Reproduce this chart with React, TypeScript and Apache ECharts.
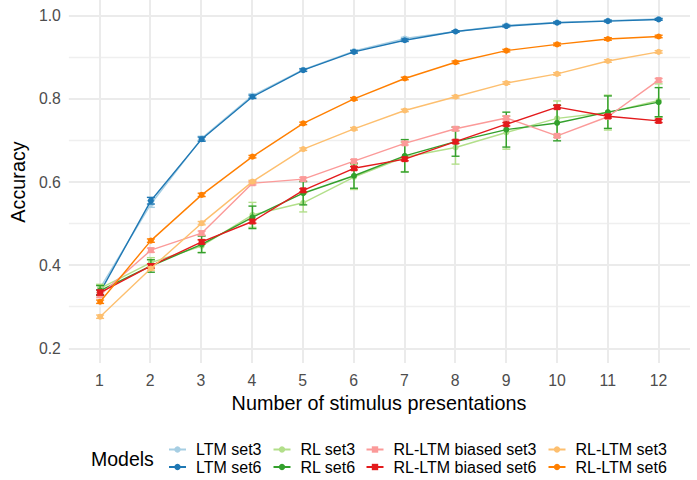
import React, { useEffect, useRef } from "react";
import * as echarts from "echarts";

const STIMULI = [1, 2, 3, 4, 5, 6, 7, 8, 9, 10, 11, 12];

const SERIES_NAMES = [
  "LTM set3",
  "LTM set6",
  "RL set3",
  "RL set6",
  "RL-LTM biased set3",
  "RL-LTM biased set6",
  "RL-LTM set3",
  "RL-LTM set6",
];
const COLORS = ["#A6CEE3", "#1F78B4", "#B2DF8A", "#33A02C", "#FB9A99", "#E31A1C", "#FDBF6F", "#FF7F00"];
const SHAPES = ["circle", "circle", "circle", "circle", "rect", "rect", "circle", "circle"];

const LTM_SET3 = [0.345, 0.547, 0.705, 0.808, 0.87, 0.915, 0.945, 0.962, 0.977, 0.984, 0.988, 0.992];
const LTM_SET6 = [0.335, 0.555, 0.703, 0.805, 0.869, 0.913, 0.941, 0.962, 0.975, 0.983, 0.987, 0.991];
const RL_SET3 = [0.344, 0.406, 0.446, 0.521, 0.55, 0.612, 0.66, 0.683, 0.719, 0.753, 0.767, 0.796];
const RL_SET6 = [0.339, 0.398, 0.45, 0.515, 0.573, 0.615, 0.663, 0.697, 0.726, 0.742, 0.768, 0.792];
const BIASED_SET3 = [0.328, 0.436, 0.477, 0.597, 0.607, 0.65, 0.693, 0.728, 0.754, 0.711, 0.757, 0.845];
const BIASED_SET6 = [0.334, 0.398, 0.456, 0.505, 0.58, 0.633, 0.655, 0.697, 0.739, 0.78, 0.758, 0.747];
const RLLTM_SET3 = [0.276, 0.392, 0.501, 0.601, 0.679, 0.728, 0.772, 0.805, 0.838, 0.86, 0.891, 0.913];
const RLLTM_SET6 = [0.312, 0.459, 0.569, 0.661, 0.741, 0.8, 0.849, 0.888, 0.916, 0.931, 0.944, 0.95];

const LTM_SET3_ERR = [0.006, 0.008, 0.005, 0.004, 0.003, 0.003, 0.003, 0.002, 0.002, 0.002, 0.002, 0.002];
const LTM_SET6_ERR = [0.006, 0.008, 0.005, 0.004, 0.003, 0.003, 0.003, 0.002, 0.002, 0.002, 0.002, 0.002];
const RL_SET3_ERR = [0.01, 0.012, 0.015, 0.03, 0.022, 0.03, 0.035, 0.04, 0.04, 0.042, 0.042, 0.04];
const RL_SET6_ERR = [0.012, 0.015, 0.02, 0.027, 0.028, 0.03, 0.039, 0.035, 0.042, 0.043, 0.039, 0.035];
const BIASED_SET3_ERR = [0.006, 0.005, 0.005, 0.004, 0.004, 0.004, 0.004, 0.004, 0.004, 0.004, 0.004, 0.004];
const BIASED_SET6_ERR = [0.006, 0.005, 0.005, 0.004, 0.004, 0.004, 0.004, 0.004, 0.004, 0.004, 0.004, 0.004];
const RLLTM_SET3_ERR = [0.004, 0.004, 0.004, 0.003, 0.003, 0.003, 0.003, 0.003, 0.003, 0.003, 0.003, 0.003];
const RLLTM_SET6_ERR = [0.004, 0.004, 0.004, 0.003, 0.003, 0.003, 0.003, 0.003, 0.003, 0.003, 0.003, 0.003];

const VALUES = [LTM_SET3, LTM_SET6, RL_SET3, RL_SET6, BIASED_SET3, BIASED_SET6, RLLTM_SET3, RLLTM_SET6];
const ERRORS = [LTM_SET3_ERR, LTM_SET6_ERR, RL_SET3_ERR, RL_SET6_ERR, BIASED_SET3_ERR, BIASED_SET6_ERR, RLLTM_SET3_ERR, RLLTM_SET6_ERR];

const FONT = "'Liberation Sans', Arial, Helvetica, sans-serif";
const LEG_X = [168, 272.5, 365.5, 547.5];
const LEG_Y = [441.5, 459];

export default function App() {
  const ref = useRef<HTMLDivElement>(null);
  useEffect(() => {
    const chart = echarts.init(ref.current!, null, { renderer: "svg" });
    const lineSeries = SERIES_NAMES.map((name, i) => ({
      type: "line",
      name,
      xAxisIndex: 1,
      yAxisIndex: 1,
      data: STIMULI.map((x, j) => [x, VALUES[i][j]]),
      symbol: SHAPES[i],
      symbolSize: 6,
      showSymbol: true,
      lineStyle: { width: 1.4, color: COLORS[i] },
      itemStyle: { color: COLORS[i] },
      z: 3 + i * 0.01,
    }));
    const errSeries = SERIES_NAMES.map((name, i) => ({
      type: "custom",
      name: name + " error",
      xAxisIndex: 1,
      yAxisIndex: 1,
      encode: { x: 0, y: 1 },
      data: STIMULI.map((x, j) => [x, VALUES[i][j], ERRORS[i][j]]),
      z: 3 + i * 0.01,
      renderItem: (params: any, api: any) => {
        const x = api.value(0);
        const y = api.value(1);
        const e = api.value(2);
        const top = api.coord([x, y + e]);
        const bot = api.coord([x, y - e]);
        const hw = 4;
        const style = { stroke: COLORS[i], lineWidth: 1.4 };
        return {
          type: "group",
          children: [
            { type: "line", shape: { x1: top[0], y1: top[1], x2: bot[0], y2: bot[1] }, style },
            { type: "line", shape: { x1: top[0] - hw, y1: top[1], x2: top[0] + hw, y2: top[1] }, style },
            { type: "line", shape: { x1: bot[0] - hw, y1: bot[1], x2: bot[0] + hw, y2: bot[1] }, style },
          ],
        };
      },
    }));

    const option: any = {
      animation: false,
      backgroundColor: "#ffffff",
      textStyle: { fontFamily: FONT },
      grid: [
        { left: 99.3, right: 697 - 658.6, top: 0, height: 363 },
        { left: 68, right: 7, top: 15.7, height: 332.6 },
      ],
      xAxis: [
        {
          gridIndex: 0,
          type: "value",
          min: 1,
          max: 12,
          interval: 1,
          axisLine: { show: false },
          axisTick: { show: false },
          axisLabel: { color: "#4D4D4D", fontSize: 15.8, margin: 9, fontFamily: FONT },
          splitLine: { show: true, lineStyle: { color: "#EBEBEB", width: 2 } },
          name: "Number of stimulus presentations",
          nameLocation: "middle",
          nameGap: 28,
          nameTextStyle: { color: "#000", fontSize: 19.8, fontFamily: FONT },
        },
        { gridIndex: 1, type: "value", min: 0.3845, max: 12.6175, show: false },
      ],
      yAxis: [
        { gridIndex: 0, type: "value", min: 0, max: 1, show: false },
        {
          gridIndex: 1,
          type: "value",
          min: 0.2,
          max: 1.0,
          interval: 0.2,
          axisLine: { show: false },
          axisTick: { show: false },
          axisLabel: {
            color: "#4D4D4D",
            fontSize: 15.8,
            margin: 8,
            fontFamily: FONT,
            formatter: (v: number) => v.toFixed(1),
          },
          splitLine: { show: true, lineStyle: { color: "#EBEBEB", width: 2 } },
          minorTick: { show: false, splitNumber: 2 },
          minorSplitLine: { show: true, lineStyle: { color: "#EFEFEF", width: 1.3 } },
          name: "Accuracy",
          nameLocation: "middle",
          nameGap: 35,
          nameRotate: 90,
          nameTextStyle: { color: "#000", fontSize: 19.8, fontFamily: FONT },
        },
      ],
      legend: SERIES_NAMES.map((name, i) => ({
        data: [{ name }],
        left: LEG_X[Math.floor(i / 2)],
        top: LEG_Y[i % 2],
        padding: 0,
        itemGap: 0,
        itemWidth: 17,
        itemHeight: 8,
        selectedMode: false,
        textStyle: { color: "#000", fontSize: 16, fontFamily: FONT, padding: [0, 0, 0, 5] },
      })),
      graphic: [
        {
          type: "text",
          left: 91,
          top: 449,
          style: { text: "Models", fill: "#000", fontSize: 19.5, fontFamily: FONT },
        },
      ],
      series: [...errSeries, ...lineSeries],
    };
    chart.setOption(option);
    return () => chart.dispose();
  }, []);
  return (
    <div
      ref={ref}
      style={{ position: "absolute", left: 0, top: 0, width: 697, height: 480, background: "#fff" }}
    />
  );
}
